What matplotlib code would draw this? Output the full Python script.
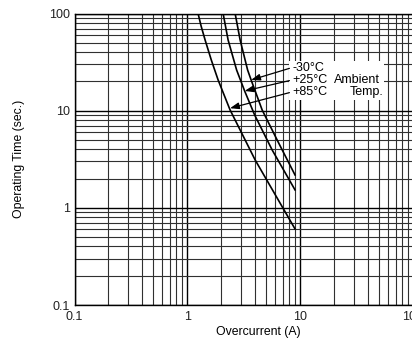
import matplotlib
matplotlib.use("Agg")
import matplotlib.pyplot as plt
from matplotlib.patches import Rectangle
from matplotlib.ticker import LogLocator, NullFormatter, FixedLocator, FixedFormatter

plt.rcParams['font.family'] = ['Liberation Sans', 'DejaVu Sans']

# Data (current in A, time in s)
i_m30 = [2.652, 2.937, 3.422, 3.676, 4.603, 6.38, 9.0]
t_m30 = [100, 53.4, 26.2, 20.7, 10.17, 4.76, 2.18]
i_p25 = [2.075, 2.298, 2.734, 3.220, 3.950, 5.646, 9.0]
t_p25 = [100, 53.4, 26.2, 15.95, 9.03, 3.94, 1.53]
i_p85 = [1.245, 1.324, 1.437, 1.631, 1.874, 2.39, 3.99, 9.0]
t_p85 = [100, 74.4, 53.4, 33.2, 20.7, 10.2, 3.11, 0.607]

temp_labels = ['-30°C', '+25°C', '+85°C']
tips_i = [3.676, 3.22, 2.39]
tips_t = [20.7, 15.95, 10.6]
label_t = [27.8, 20.7, 15.6]

xticks = [0.1, 1, 10, 100]
xticklabels = ['0.1', '1', '10', '100']
yticks = [0.1, 1, 10, 100]
yticklabels = ['0.1', '1', '10', '100']

FS = 9

fig = plt.figure(figsize=(4.12, 3.39), dpi=100)
ax = fig.add_axes([74.5 / 412, 34 / 339, (413 - 74.5) / 412, (305 - 13.5) / 339])
ax.set_xscale('log')
ax.set_yscale('log')
ax.set_xlim(0.1, 100)
ax.set_ylim(0.1, 100)

ax.xaxis.set_major_locator(FixedLocator(xticks))
ax.xaxis.set_major_formatter(FixedFormatter(xticklabels))
ax.yaxis.set_major_locator(FixedLocator(yticks))
ax.yaxis.set_major_formatter(FixedFormatter(yticklabels))
ax.xaxis.set_minor_locator(LogLocator(base=10, subs=range(2, 10)))
ax.yaxis.set_minor_locator(LogLocator(base=10, subs=range(2, 10)))
ax.xaxis.set_minor_formatter(NullFormatter())
ax.yaxis.set_minor_formatter(NullFormatter())
ax.tick_params(which='both', length=0, labelsize=FS, colors='#222222')
ax.tick_params(axis='x', pad=4.5)
ax.tick_params(axis='y', pad=3)
ax.grid(which='major', color='black', lw=1.0)
ax.grid(which='minor', color='#303030', lw=0.8)
for s in ax.spines.values():
    s.set_linewidth(1.0)
    s.set_color('black')

ax.plot(i_m30, t_m30, color='black', lw=1.2, zorder=3)
ax.plot(i_p25, t_p25, color='black', lw=1.2, zorder=3)
ax.plot(i_p85, t_p85, color='black', lw=1.2, zorder=3)

ax.add_patch(Rectangle((8.0, 12.9), 55.6 - 8.0, 32.5 - 12.9, facecolor='white',
                       edgecolor='none', zorder=2.5))

for lab, xi, yi, ty in zip(temp_labels, tips_i, tips_t, label_t):
    ax.annotate(lab, xy=(xi, yi), xytext=(8.5, ty), ha='left', va='center',
                fontsize=FS, zorder=4,
                arrowprops=dict(arrowstyle='-|>,head_length=0.6,head_width=0.22',
                                color='black', lw=0.9,
                                shrinkA=0, shrinkB=0, relpos=(0, 0.5),
                                mutation_scale=9))
ax.text(20.0, 20.7, 'Ambient', ha='left', va='center', fontsize=FS, zorder=4)
ax.text(54.5, 15.6, 'Temp.', ha='right', va='center', fontsize=FS, zorder=4)

ax.set_xlabel('Overcurrent (A)', fontsize=8.8)
ax.xaxis.set_label_coords((258.5 - 74.5) / (413 - 74.5), -0.072)
ax.set_ylabel('Operating Time (sec.)', fontsize=8.8)
ax.yaxis.set_label_coords(-(74.5 - 25) / (413 - 74.5), 0.5)

fig.savefig('out.png', dpi=100)
